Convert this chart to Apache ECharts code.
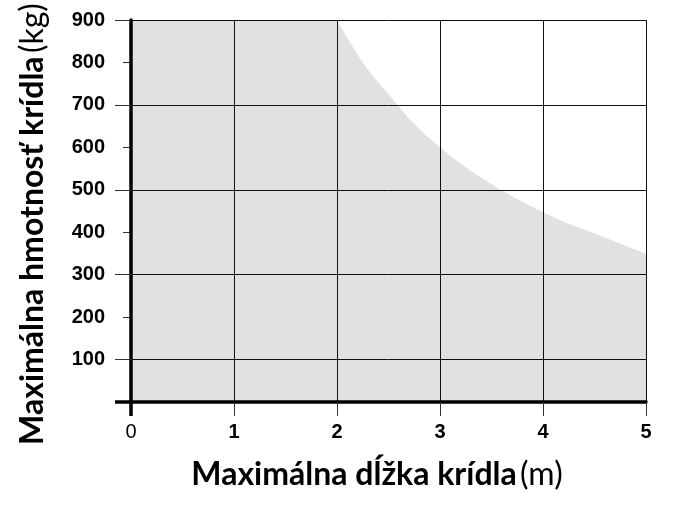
<!DOCTYPE html>
<html>
<head>
<meta charset="utf-8">
<script src="https://cdn.jsdelivr.net/npm/echarts@6/dist/echarts.min.js"></script>
<style>html,body{margin:0;padding:0;background:#fff;}#c{width:674px;height:505px;}</style>
</head>
<body>
<div id="c"></div>
<script>
// Data
var wingLength = [0, 2, 2.25, 2.5, 2.75, 3, 3.25, 3.5, 3.75, 4, 4.25, 4.5, 4.75, 5];
var wingMass   = [900, 900, 800, 725, 655, 600, 553, 513, 478, 447, 420, 397, 373, 350];
var xTicks = [0, 1, 2, 3, 4, 5];
var yTicks = [100, 200, 300, 400, 500, 600, 700, 800, 900];
var yLongTicks = [100, 300, 500, 700, 900];
var yShortTicks = [200, 400, 600, 800];
var xTitle = 'Maximálna dĺžka krídla';
var xUnit = '(m)';
var yTitle = 'Maximálna hmotnosť krídla';
var yUnit = '(kg)';

var points = wingLength.map(function (x, i) { return [x, wingMass[i]]; });
var flatPart = points.slice(0, 2);
var curvePart = points.slice(1);
var yLabelData = yTicks.map(function (v) { return [xTicks[0], v]; });

var labelFont = 'Liberation Sans';
var titleFont = 'Lato';
var chart = echarts.init(document.getElementById('c'), null, {renderer: 'canvas'});

var baseY = {type: 'value', min: 0, max: 900, interval: 100, gridIndex: 0, position: 'left'};
var titleRich = {
  b: {fontFamily: titleFont, fontSize: 32, fontWeight: 'bold', color: '#000'},
  n: {fontFamily: titleFont, fontSize: 32, fontWeight: 'normal', color: '#000'}
};

chart.setOption({
  animation: false,
  grid: {left: 131, right: 28, top: 20, bottom: 103},
  xAxis: {
    type: 'value', min: 0, max: 5, interval: 1, z: 5,
    axisLine: {show: true, onZero: false, lineStyle: {color: '#000', width: 3.5}},
    axisTick: {show: true, customValues: [1, 2, 3, 4, 5], length: 14, lineStyle: {color: '#333', width: 1}},
    axisLabel: {
      show: true, margin: 20,
      formatter: function (v) { return v === 0 ? '{n|0}' : '{b|' + v + '}'; },
      rich: {
        n: {fontFamily: labelFont, fontSize: 20, fontWeight: 'normal', color: '#000'},
        b: {fontFamily: labelFont, fontSize: 20, fontWeight: 'bold', color: '#000'}
      }
    },
    splitLine: {show: true, lineStyle: {color: '#111', width: 1}}
  },
  yAxis: [
    Object.assign({}, baseY, {
      z: 5,
      axisLine: {show: true, onZero: false, lineStyle: {color: '#000', width: 3.5}},
      axisTick: {show: true, customValues: yLongTicks, length: 16, lineStyle: {color: '#333', width: 1}},
      axisLabel: {show: false},
      splitLine: {show: true, lineStyle: {color: '#111', width: 1}},
      name: '{b|' + yTitle + '} {n|' + yUnit + '}',
      nameLocation: 'middle', nameGap: 82,
      nameTextStyle: {padding: [0, 26, 0, 0], rich: titleRich}
    }),
    Object.assign({}, baseY, {
      axisLine: {show: false},
      axisTick: {show: true, customValues: yShortTicks, length: 8, lineStyle: {color: '#333', width: 1}},
      axisLabel: {show: false},
      splitLine: {show: false}
    })
  ],
  graphic: [{
    type: 'text',
    x: 377, y: 475,
    style: {
      text: '{b|' + xTitle + '} {n|' + xUnit + '}',
      rich: titleRich,
      align: 'center',
      verticalAlign: 'middle'
    }
  }],
  series: [{
    type: 'line',
    data: flatPart,
    symbol: 'none',
    lineStyle: {width: 0, opacity: 0},
    areaStyle: {color: '#e1e1e1', opacity: 1},
    silent: true,
    z: 1
  }, {
    type: 'line',
    data: curvePart,
    smooth: 0.35,
    symbol: 'none',
    lineStyle: {width: 0, opacity: 0},
    areaStyle: {color: '#e1e1e1', opacity: 1},
    silent: true,
    z: 1
  }, {
    // y tick labels placed through the y scale
    type: 'custom',
    data: yLabelData,
    silent: true,
    clip: false,
    z: 10,
    renderItem: function (params, api) {
      var v = api.value(1);
      var p = api.coord([api.value(0), v]);
      return {
        type: 'text',
        x: p[0] - 26,
        y: p[1],
        style: {
          text: String(v),
          fontFamily: labelFont,
          fontSize: 20,
          fontWeight: 'bold',
          fill: '#000',
          align: 'right',
          verticalAlign: 'middle'
        }
      };
    }
  }, {
    // thick stubs of both axes extending past the origin
    type: 'custom',
    data: [[xTicks[0], 0]],
    silent: true,
    clip: false,
    z: 10,
    renderItem: function (params, api) {
      var o = api.coord([api.value(0), api.value(1)]);
      var st = {stroke: '#000', lineWidth: 3.5};
      return {
        type: 'group',
        children: [
          {type: 'line', shape: {x1: o[0], y1: o[1], x2: o[0], y2: o[1] + 14}, style: st},
          {type: 'line', shape: {x1: o[0], y1: o[1], x2: o[0] - 16, y2: o[1]}, style: st}
        ]
      };
    }
  }]
});
</script>
</body>
</html>
